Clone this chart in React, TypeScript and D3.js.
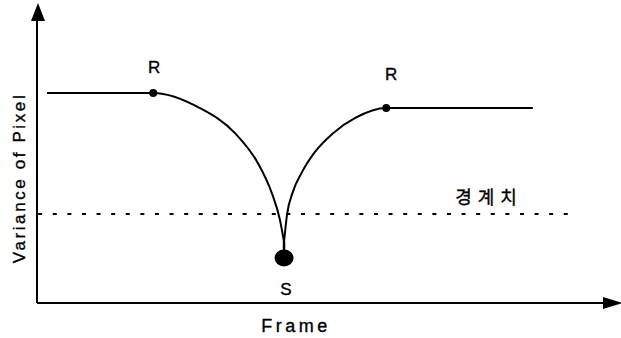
import React from 'react';
import * as d3 from 'd3';

// frame / variance values (arbitrary 0..100 units)
const leftFrames = [1.7, 19.9, 27.9, 33.9, 37.8, 40.2, 41.6, 42.3];
const leftVariance = [70.5, 70.5, 65.4, 57.0, 47.0, 36.9, 27.9, 20.5];
const rightFrames = [42.3, 42.8, 43.8, 45.4, 47.6, 50.7, 54.5, 59.8, 84.9];
const rightVariance = [20.5, 29.5, 37.2, 44.0, 50.7, 57.0, 62.1, 65.4, 65.4];

const rPoints = [
  { frame: 19.9, variance: 70.5, label: 'R' },
  { frame: 59.8, variance: 65.4, label: 'R' },
];
const sPoint = { frame: 42.3, variance: 15.1, label: 'S' };
const threshold = { value: 29.9, from: 0.2, to: 91.1, label: '경계치' };

const axisTitles = { x: 'Frame', y: 'Variance of Pixel' };

const W = 621;
const H = 338;
const origin = { x: 37, y: 303 };

export default function App() {
  const x = d3.scaleLinear().domain([0, 100]).range([origin.x, 621]);
  const y = d3.scaleLinear().domain([0, 100]).range([origin.y, 5]);

  const line = d3
    .line<[number, number]>()
    .x(d => x(d[0]))
    .y(d => y(d[1]))
    .curve(d3.curveMonotoneX);

  const leftPath = line(leftFrames.map((f, i) => [f, leftVariance[i]]));
  const rightPath = line(rightFrames.map((f, i) => [f, rightVariance[i]]));

  const font = "'Liberation Sans', Arial, Helvetica, sans-serif";
  // scanned print looks a touch heavier than a regular weight
  const ink = { fill: '#000', stroke: '#000', strokeWidth: 0.35 };

  return (
    <svg
      width={W}
      height={H}
      style={{ position: 'fixed', left: 0, top: 0, display: 'block', background: '#fff' }}
    >
      {/* axes */}
      <line x1={origin.x} y1={origin.y} x2={origin.x} y2={18} stroke="#000" strokeWidth={2} />
      <path d={`M38,3 L31,21 L45,21 Z`} fill="#000" />
      <line x1={origin.x} y1={origin.y} x2={606} y2={origin.y} stroke="#000" strokeWidth={2} />
      <path d={`M623,303 L603,297 L603,309 Z`} fill="#000" />

      {/* threshold */}
      <line
        x1={x(threshold.from)}
        x2={x(threshold.to)}
        y1={y(threshold.value)}
        y2={y(threshold.value)}
        stroke="#000"
        strokeWidth={2}
        strokeDasharray="4 10.6"
      />
      <text
        x={489}
        y={y(threshold.value) - 10}
        textAnchor="middle"
        fontFamily="'Noto Sans CJK KR', sans-serif"
        fontSize={18}
        style={{ letterSpacing: '6px' }}
        {...ink}
      >
        {threshold.label}
      </text>

      {/* curve */}
      <path d={leftPath ?? ''} fill="none" stroke="#000" strokeWidth={2} />
      <path d={rightPath ?? ''} fill="none" stroke="#000" strokeWidth={2} />
      <line
        x1={x(sPoint.frame)}
        x2={x(sPoint.frame)}
        y1={y(leftVariance[leftVariance.length - 1])}
        y2={y(sPoint.variance)}
        stroke="#000"
        strokeWidth={2.5}
      />

      {rPoints.map((p, i) => (
        <g key={i}>
          <circle cx={x(p.frame)} cy={y(p.variance)} r={4} fill="#000" />
          <text
            x={x(p.frame) + (i === 0 ? 1 : 5)}
            y={y(p.variance) - (i === 0 ? 20 : 28)}
            textAnchor="middle"
            fontFamily={font}
            fontSize={17}
            {...ink}
          >
            {p.label}
          </text>
        </g>
      ))}

      <ellipse cx={x(sPoint.frame)} cy={y(sPoint.variance)} rx={9.5} ry={8.5} fill="#000" />
      <text
        x={x(sPoint.frame) + 2}
        y={y(sPoint.variance) + 37}
        textAnchor="middle"
        fontFamily={font}
        fontSize={17}
        {...ink}
      >
        {sPoint.label}
      </text>

      {/* axis titles */}
      <text
        x={296}
        y={332}
        textAnchor="middle"
        fontFamily={font}
        fontSize={18}
        style={{ letterSpacing: '3.5px' }}
        {...ink}
      >
        {axisTitles.x}
      </text>
      <text
        transform="translate(25,178) rotate(-90)"
        textAnchor="middle"
        fontFamily={font}
        fontSize={17}
        style={{ letterSpacing: '2.6px' }}
        {...ink}
      >
        {axisTitles.y}
      </text>
    </svg>
  );
}
